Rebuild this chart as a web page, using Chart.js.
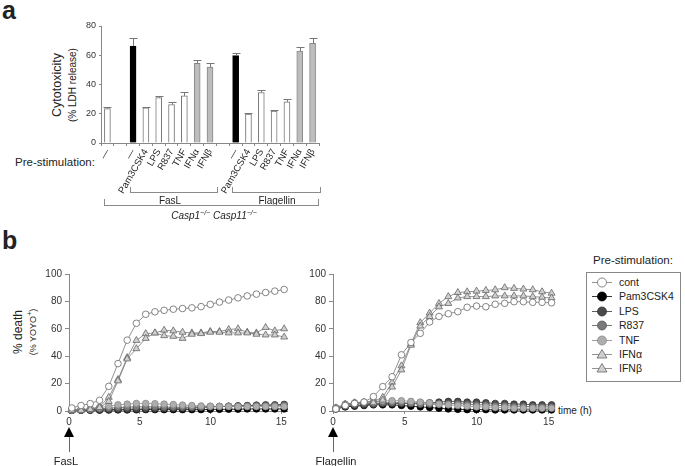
<!DOCTYPE html>
<html lang="en">
<head>
<meta charset="UTF-8">
<title>Cytotoxicity / % death</title>
<script src="https://cdn.jsdelivr.net/npm/chart.js"></script>
<style>
  body { margin: 0; background: #fff; font-family: "Liberation Sans", Arial, sans-serif; color: #222; }
  .fig { position: relative; width: 685px; height: 466px; overflow: hidden; }
  .abs { position: absolute; white-space: nowrap; }
  .mid { transform: translate(-50%, -50%); }
  .rot { transform: translate(-50%, -50%) rotate(-90deg); }
  canvas { position: absolute; }
  .panel { font-weight: bold; font-size: 25px; line-height: 1; }
  .brk { position: absolute; border: 1px solid #8a8a8a; border-top: none; }
  .tri { position: absolute; width: 0; height: 0; border-left: 5px solid transparent; border-right: 5px solid transparent; border-bottom: 10px solid #000; }
  .stem { position: absolute; width: 1px; background: #666; }
  .legend { position: absolute; left: 586px; top: 272px; width: 93px; height: 108px; border: 1px solid #888; }
  .legend .row { position: absolute; left: 0; height: 14px; font-size: 10.5px; line-height: 14px; }
  .legend canvas { position: absolute; left: 3px; top: 0; }
  .legend span { position: absolute; left: 32px; top: 0; }
  sup { font-size: 7px; }
</style>
</head>
<body>
<div class="fig">
  <!-- panel a -->
  <div class="abs panel" style="left:2px; top:-2px;">a</div>
  <div class="abs rot" style="left:57px; top:85px; font-size:12.5px;">Cytotoxicity</div>
  <div class="abs rot" style="left:72px; top:85px; font-size:10px;">(% LDH release)</div>
  <div class="abs mid" style="left:55px; top:162px; font-size:11.5px;">Pre-stimulation:</div>
  <canvas id="barChart" width="244" height="190" style="left:80px; top:14px;"></canvas>

  <div class="brk" style="left:130px; top:187px; width:86px; height:5px;"></div>
  <div class="abs mid" style="left:170px; top:200px; font-size:10px;">FasL</div>
  <div class="brk" style="left:232px; top:187px; width:87px; height:5px;"></div>
  <div class="abs mid" style="left:277px; top:200px; font-size:10px;">Flagellin</div>
  <div class="brk" style="left:104px; top:199px; width:213px; height:6px;"></div>
  <div class="abs mid" style="left:214px; top:215px; font-size:10px; font-style:italic;">Casp1<sup>−/−</sup> Casp11<sup>−/−</sup></div>

  <!-- panel b -->
  <div class="abs panel" style="left:2px; top:228px;">b</div>
  <div class="abs rot" style="left:18px; top:332px; font-size:12px;">% death</div>
  <div class="abs rot" style="left:32px; top:332px; font-size:9px;">(% YOYO<sup>+</sup>)</div>
  <canvas id="fasChart" width="292" height="166" style="left:0px; top:262px;"></canvas>
  <canvas id="flaChart" width="258" height="166" style="left:300px; top:262px;"></canvas>
  <div class="abs" style="left:558px; top:405px; font-size:10px;">time (h)</div>

  <div class="tri" style="left:64px; top:427px;"></div>
  <div class="stem" style="left:69px; top:437px; height:15px;"></div>
  <div class="abs mid" style="left:66px; top:461px; font-size:11px;">FasL</div>
  <div class="tri" style="left:328px; top:427px;"></div>
  <div class="stem" style="left:333px; top:437px; height:15px;"></div>
  <div class="abs mid" style="left:336px; top:461px; font-size:11px;">Flagellin</div>

  <div class="abs mid" style="left:633px; top:260px; font-size:11.5px;">Pre-stimulation:</div>
  <div class="legend" id="legend"></div>
</div>

<script>
    // panel a: LDH release
    const barLabels = ['—', '', '—', 'Pam3CSK4', 'LPS', 'R837', 'TNF', 'IFNα', 'IFNβ', '',
                       '—', 'Pam3CSK4', 'LPS', 'R837', 'TNF', 'IFNα', 'IFNβ'];
    const barValues = [23.5, null, 66.3, 24, 31, 26.3, 32.2, 54.4, 51.9, null,
                       59.7, 19.7, 34.5, 21.9, 28.1, 62.9, 68.1];
    const barErrors = [1.2, null, 5.2, 0.7, 0.8, 1.4, 2.8, 2.6, 3, null,
                       2, 0.6, 1.4, 0.5, 1.8, 2.5, 3.4];
    const barTicks = [0, 20, 40, 60, 80];

    // panel b: time course (hours)
    const hours = [0.2, 0.85, 1.5, 2.16, 2.81, 3.46, 4.11, 4.76, 5.42, 6.07, 6.72, 7.37,
                   8.02, 8.68, 9.33, 9.98, 10.63, 11.28, 11.94, 12.59, 13.24, 13.89, 14.54, 15.2];
    const seriesNames = ['cont', 'Pam3CSK4', 'LPS', 'R837', 'TNF', 'IFNα', 'IFNβ'];

    const fasCont = [2.2, 4, 5.4, 7.8, 18, 34.6, 51.7, 64, 70.6, 72.4, 73.5, 74.3, 74.8, 75.3, 76.2, 77.8, 79.5, 81, 82.6, 84, 85.3, 86.5, 87.5, 88.7];
    const fasPam = [0.5, 0.5, 0.5, 0.6, 0.7, 0.8, 0.8, 0.9, 1, 1, 1, 1, 1, 1, 1, 1.2, 1.2, 1.3, 1.3, 1.5, 1.5, 1.5, 1.5, 1.5];
    const fasLps = [0.5, 0.6, 0.8, 1, 1, 1.2, 1.3, 1.5, 1.5, 1.6, 1.8, 2, 2, 2.2, 2.5, 3, 3.2, 3.5, 3.8, 4, 4.3, 4.5, 4.5, 4.8];
    const fasR837 = [0.6, 0.8, 1, 1.5, 2, 2.5, 2.8, 3, 3, 3, 2.8, 2.8, 2.8, 2.8, 3, 3.2, 3.3, 3.5, 3.6, 3.8, 4, 4, 4.2, 4.3];
    const fasTnf = [0.8, 1, 1.5, 2.5, 3.5, 4.5, 5, 5.5, 5.5, 5.3, 5, 4.7, 4.3, 4, 3.7, 3.5, 3.4, 3.3, 3.2, 3.2, 3.2, 3.2, 3.2, 3.2];
    const fasIfna = [0.5, 0.8, 1.5, 3, 10, 23, 39, 51.5, 56.5, 57, 59, 58.5, 57.5, 57, 57, 58, 58, 59.5, 60, 57.5, 57, 61, 58.5, 60];
    const fasIfnb = [0.3, 0.5, 1.2, 2.5, 7, 22, 38, 45.5, 53, 57, 55, 54.5, 53, 56, 56.5, 57.5, 57.5, 57, 57, 57, 56, 55.5, 55.5, 54];

    const flaCont = [1.5, 4, 5.5, 6.5, 10.5, 17.8, 25, 41, 50, 56.7, 65, 69, 71, 72.5, 75.7, 76.6, 76.1, 77.9, 78.6, 79.8, 79.8, 79.3, 79.3, 79];
    const flaPam = [1.5, 3, 3.5, 4, 4.5, 4.5, 4.5, 4, 3.5, 3, 2.5, 2, 1.5, 1.2, 1, 1, 1, 0.8, 0.8, 0.8, 0.8, 0.8, 0.8, 0.8];
    const flaLps = [1.5, 3.5, 4, 4.5, 5, 5.5, 5.5, 5.5, 5.5, 6, 6, 6.5, 7, 7, 6.5, 6.5, 6, 5.5, 5.5, 5, 5, 4.5, 4.5, 4.5];
    const flaR837 = [2, 4, 5, 5.5, 5.5, 6, 6, 6, 5.5, 5, 5, 5, 5.5, 5.5, 5, 4.5, 4.5, 4, 4, 3.5, 3.5, 3, 3, 3];
    const flaTnf = [2.5, 5, 6, 6.5, 7, 7.5, 7.5, 7.5, 7, 6.5, 6, 5, 4.5, 4, 3.5, 3, 3, 2.5, 2.5, 2, 2, 2, 2, 2];
    const flaIfna = [2, 5, 6, 6.5, 7, 10, 21, 33, 49, 64.5, 71.5, 78.5, 83.5, 86.5, 87, 87.5, 88, 88.5, 90, 89.5, 89, 88.5, 87, 86];
    const flaIfnb = [1.5, 4.5, 5.5, 6, 6, 8, 17.5, 30, 48, 62, 69, 76, 78.5, 82.5, 83.5, 83.5, 83.5, 84, 84, 84, 84, 83.5, 83, 82.5];

    Chart.defaults.font.family = '"Liberation Sans", Arial, sans-serif';
    Chart.defaults.color = '#222';
    Chart.defaults.animation = false;

    // bar styles: w = white, k = black, g = gray
    const barKinds = ['w', '', 'k', 'w', 'w', 'w', 'w', 'g', 'g', '', 'k', 'w', 'w', 'w', 'w', 'g', 'g'];
    const barFill = { w: '#ffffff', k: '#000000', g: '#bdbdbd', '': '#ffffff' };
    const barLine = { w: '#777777', k: '#000000', g: '#888888', '': '#ffffff' };

    const errorBars = {
        id: 'errorBars',
        afterDatasetsDraw(chart) {
            const ctx = chart.ctx;
            const y = chart.scales.y;
            const meta = chart.getDatasetMeta(0);
            ctx.save();
            ctx.strokeStyle = '#777';
            ctx.lineWidth = 1;
            meta.data.forEach((bar, i) => {
                if (barValues[i] == null) return;
                const top = Math.round(y.getPixelForValue(barValues[i] + barErrors[i])) + 0.5;
                const x = Math.round(bar.x) + 0.5;
                ctx.beginPath();
                ctx.moveTo(x, bar.y);
                ctx.lineTo(x, top);
                ctx.moveTo(x - 4, top);
                ctx.lineTo(x + 4, top);
                ctx.stroke();
            });
            ctx.restore();
        }
    };

    new Chart(document.getElementById('barChart'), {
        type: 'bar',
        data: {
            labels: barLabels,
            datasets: [{
                data: barValues,
                backgroundColor: barKinds.map(k => barFill[k]),
                borderColor: barKinds.map(k => barLine[k]),
                borderWidth: 1,
                barThickness: 6
            }]
        },
        options: {
            responsive: false,
            layout: { padding: { top: 12, right: 5, left: 0, bottom: 0 } },
            plugins: { legend: { display: false }, tooltip: { enabled: false } },
            scales: {
                x: {
                    afterFit(scale) { scale.height = 61; },
                    grid: { display: true, drawOnChartArea: false, tickLength: 3, color: '#888' },
                    border: { color: '#888' },
                    ticks: { autoSkip: false, minRotation: 60, maxRotation: 60, padding: 1, font: { size: 9.5 }, color: '#222' }
                },
                y: {
                    min: 0, max: 80,
                    afterFit(scale) { scale.width = 21; },
                    afterBuildTicks(scale) { scale.ticks = barTicks.map(v => ({ value: v })); },
                    grid: { drawOnChartArea: false, tickLength: 2, color: '#888' },
                    border: { color: '#888' },
                    ticks: { padding: 3, font: { size: 9 }, color: '#333' }
                }
            }
        },
        plugins: [errorBars]
    });

    // drawing order: lower number is painted on top
    const looks = [
        { fill: '#ffffff', line: '#777777', shape: 'circle', order: 0 },
        { fill: '#000000', line: '#000000', shape: 'circle', order: 6 },
        { fill: '#4a4a4a', line: '#333333', shape: 'circle', order: 5 },
        { fill: '#7a7a7a', line: '#555555', shape: 'circle', order: 4 },
        { fill: '#aeaeae', line: '#888888', shape: 'circle', order: 3 },
        { fill: '#d0d0d0', line: '#777777', shape: 'triangle', order: 2 },
        { fill: '#d0d0d0', line: '#777777', shape: 'triangle', order: 1 }
    ];

    function timeCourse(id, series, yAxisWidth, xMax) {
        new Chart(document.getElementById(id), {
            type: 'line',
            data: {
                datasets: series.map((vals, s) => ({
                    label: seriesNames[s],
                    data: hours.map((h, i) => ({ x: h, y: vals[i] })),
                    order: looks[s].order,
                    borderColor: looks[s].line,
                    borderWidth: 0.8,
                    pointStyle: looks[s].shape,
                    pointRadius: looks[s].shape === 'triangle' ? 4 : 3.3,
                    pointBackgroundColor: looks[s].fill,
                    pointBorderColor: looks[s].shape === 'circle' && s > 0 ? looks[s].line : '#666',
                    pointBorderWidth: 0.8,
                    clip: false,
                    tension: 0
                }))
            },
            options: {
                responsive: false,
                layout: { padding: { top: 12, right: 5, left: 0, bottom: 0 } },
                plugins: { legend: { display: false }, tooltip: { enabled: false } },
                scales: {
                    x: {
                        type: 'linear', min: 0, max: xMax,
                        afterFit(scale) { scale.height = 17; },
                        afterBuildTicks(scale) { scale.ticks = [0, 5, 10, 15].map(v => ({ value: v })); },
                        grid: { drawOnChartArea: false, tickLength: 3, color: '#888' },
                        border: { color: '#888' },
                        ticks: { padding: 2, font: { size: 10 }, color: '#333' }
                    },
                    y: {
                        min: 0, max: 100,
                        afterFit(scale) { scale.width = yAxisWidth; },
                        afterBuildTicks(scale) { scale.ticks = [0, 20, 40, 60, 80, 100].map(v => ({ value: v })); },
                        grid: { drawOnChartArea: false, tickLength: 4, color: '#888' },
                        border: { color: '#888' },
                        ticks: { padding: 3, font: { size: 10 }, color: '#333' }
                    }
                }
            }
        });
    }

    timeCourse('fasChart', [fasCont, fasPam, fasLps, fasR837, fasTnf, fasIfna, fasIfnb], 69, 15.4);
    timeCourse('flaChart', [flaCont, flaPam, flaLps, flaR837, flaTnf, flaIfna, flaIfnb], 33, 15.3);

    // legend box
    const legend = document.getElementById('legend');
    seriesNames.forEach((name, s) => {
        const row = document.createElement('div');
        row.className = 'row';
        row.style.top = (2 + s * 14.4) + 'px';
        const icon = document.createElement('canvas');
        icon.width = 24; icon.height = 14;
        const c = icon.getContext('2d');
        c.strokeStyle = looks[s].line;
        c.lineWidth = 0.8;
        c.beginPath(); c.moveTo(2, 7.5); c.lineTo(22, 7.5); c.stroke();
        c.fillStyle = looks[s].fill;
        c.strokeStyle = looks[s].shape === 'circle' && s > 0 ? looks[s].line : '#666';
        c.beginPath();
        if (looks[s].shape === 'circle') {
            c.arc(12, 7.5, 4.5, 0, Math.PI * 2);
        } else {
            c.moveTo(12, 2.5); c.lineTo(17, 11); c.lineTo(7, 11); c.closePath();
        }
        c.fill(); c.stroke();
        const label = document.createElement('span');
        label.textContent = name;
        row.appendChild(icon);
        row.appendChild(label);
        legend.appendChild(row);
    });
</script>
</body>
</html>
